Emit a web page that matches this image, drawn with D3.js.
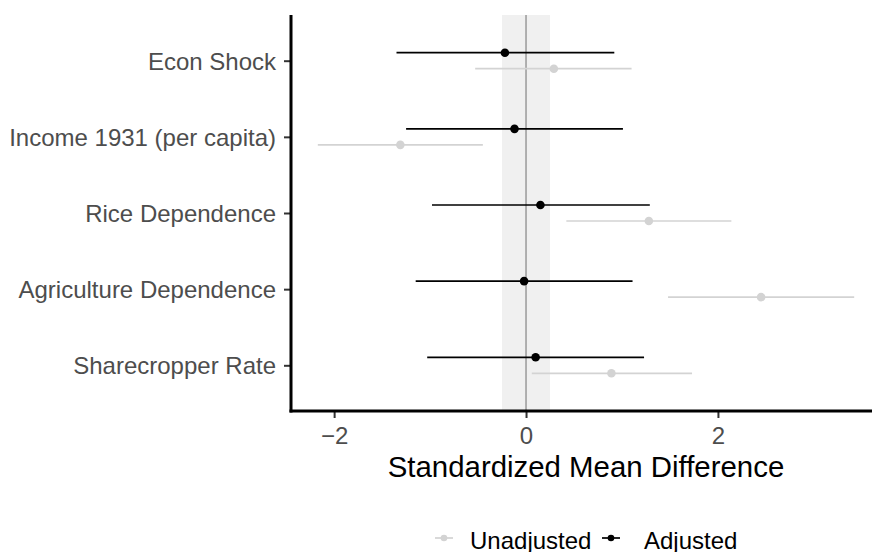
<!DOCTYPE html>
<html>
<head>
<meta charset="utf-8">
<script src="https://cdn.jsdelivr.net/npm/d3@7"></script>
<style>
  html, body { margin: 0; padding: 0; background: #ffffff; }
  svg { display: block; font-family: "Liberation Sans", Arial, Helvetica, sans-serif; }
</style>
</head>
<body>
<svg id="chart" width="872" height="552"></svg>
<script>
// Covariate balance: standardized mean differences with intervals
const categories = [
  "Econ Shock",
  "Income 1931 (per capita)",
  "Rice Dependence",
  "Agriculture Dependence",
  "Sharecropper Rate"
];
const seriesNames = ["Unadjusted", "Adjusted"];

const adjustedEst = [-0.22, -0.12, 0.15, -0.02, 0.10];
const adjustedLow = [-1.35, -1.25, -0.98, -1.15, -1.03];
const adjustedHigh = [0.92, 1.01, 1.29, 1.11, 1.23];

const unadjustedEst = [0.29, -1.31, 1.28, 2.45, 0.89];
const unadjustedLow = [-0.53, -2.17, 0.42, 1.48, 0.06];
const unadjustedHigh = [1.10, -0.45, 2.14, 3.42, 1.73];

const xTicks = [-2, 0, 2];
const balanceBand = [-0.25, 0.25];

const colors = { Unadjusted: "#d3d3d3", Adjusted: "#000000" };

const rows = [];
categories.forEach((c, i) => {
  rows.push({ cat: c, series: "Unadjusted", est: unadjustedEst[i], lo: unadjustedLow[i], hi: unadjustedHigh[i] });
  rows.push({ cat: c, series: "Adjusted", est: adjustedEst[i], lo: adjustedLow[i], hi: adjustedHigh[i] });
});

const svg = d3.select("#chart");
const panel = { left: 291, right: 881, top: 15, bottom: 411 };

// x domain: data extent with 5% expansion on each side
const xMin = d3.min(rows, d => d.lo);
const xMax = d3.max(rows, d => d.hi);
const pad = (xMax - xMin) * 0.05;
const x = d3.scaleLinear().domain([xMin - pad, xMax + pad]).range([panel.left, panel.right]);

const y = d3.scalePoint().domain(categories).range([panel.top, panel.bottom]).padding(0.6);
const dodge = y.step() * 0.105;
const yOf = d => y(d.cat) + (d.series === "Adjusted" ? -dodge : dodge);

const plot = svg.append("g");

// shaded balance threshold band
plot.append("rect")
  .attr("x", x(balanceBand[0]))
  .attr("y", panel.top)
  .attr("width", x(balanceBand[1]) - x(balanceBand[0]))
  .attr("height", panel.bottom - panel.top)
  .attr("fill", "#f0f0f0");

// zero reference line
plot.append("line")
  .attr("x1", x(0)).attr("x2", x(0))
  .attr("y1", panel.top).attr("y2", panel.bottom)
  .attr("stroke", "#6e6e6e").attr("stroke-width", 1);

// interval lines and point estimates, unadjusted drawn first
seriesNames.forEach(s => {
  const sub = rows.filter(d => d.series === s);
  plot.selectAll(null).data(sub).enter().append("line")
    .attr("x1", d => x(d.lo)).attr("x2", d => x(d.hi))
    .attr("y1", yOf).attr("y2", yOf)
    .attr("stroke", colors[s]).attr("stroke-width", 1.7);
  plot.selectAll(null).data(sub).enter().append("circle")
    .attr("cx", d => x(d.est)).attr("cy", yOf)
    .attr("r", 4.3)
    .attr("fill", colors[s]);
});

// axes
const axisColor = "#000000";
const tickColor = "#333333";
const labelColor = "#4d4d4d";
const tickFont = 24;

const xAxis = svg.append("g").attr("transform", `translate(0,${panel.bottom})`)
  .call(d3.axisBottom(x).tickValues(xTicks).tickSize(7).tickPadding(8.5)
    .tickFormat(d => d < 0 ? "\u2212" + Math.abs(d) : String(d)));
xAxis.select(".domain").remove();
xAxis.selectAll(".tick line").attr("stroke", tickColor).attr("stroke-width", 2);
xAxis.selectAll(".tick text").attr("fill", labelColor).attr("font-size", tickFont)
  .attr("font-family", "Liberation Sans, Arial, sans-serif").attr("dy", "0.72em");

const yAxis = svg.append("g").attr("transform", `translate(${panel.left},0)`)
  .call(d3.axisLeft(y).tickSize(7).tickPadding(8));
yAxis.select(".domain").remove();
yAxis.selectAll(".tick line").attr("stroke", tickColor).attr("stroke-width", 2);
yAxis.selectAll(".tick text").attr("fill", labelColor).attr("font-size", tickFont)
  .attr("font-family", "Liberation Sans, Arial, sans-serif").attr("dy", "0.36em");

// axis lines
svg.append("line")
  .attr("x1", panel.left - 1.5).attr("x2", 872)
  .attr("y1", panel.bottom).attr("y2", panel.bottom)
  .attr("stroke", axisColor).attr("stroke-width", 3);
svg.append("line")
  .attr("x1", panel.left).attr("x2", panel.left)
  .attr("y1", panel.top).attr("y2", panel.bottom + 1.5)
  .attr("stroke", axisColor).attr("stroke-width", 3);

// x axis title
svg.append("text")
  .attr("x", (panel.left + panel.right) / 2)
  .attr("y", 476.5)
  .attr("text-anchor", "middle")
  .attr("font-size", 29.4)
  .attr("fill", "#000")
  .text("Standardized Mean Difference");

// legend
const legend = svg.append("g").attr("transform", "translate(0,538)");
const legendItems = [
  { name: "Unadjusted", keyX: 444, textX: 470 },
  { name: "Adjusted", keyX: 611, textX: 644 }
];
legendItems.forEach(it => {
  legend.append("line")
    .attr("x1", it.keyX - 9).attr("x2", it.keyX + 9)
    .attr("y1", 0).attr("y2", 0)
    .attr("stroke", colors[it.name]).attr("stroke-width", 1.7);
  legend.append("circle")
    .attr("cx", it.keyX).attr("cy", 0).attr("r", 3.3)
    .attr("fill", colors[it.name]);
  legend.append("text")
    .attr("x", it.textX).attr("y", 10.5)
    .attr("font-size", tickFont).attr("fill", "#000")
    .text(it.name);
});
</script>
</body>
</html>
